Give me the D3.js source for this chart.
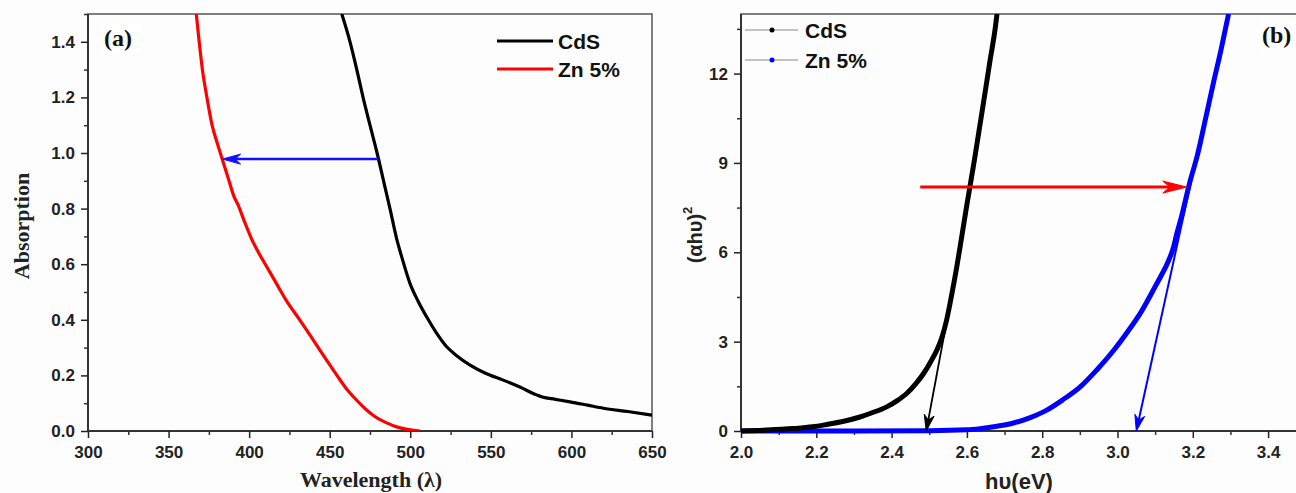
<!DOCTYPE html>
<html>
<head>
<meta charset="utf-8">
<script src="https://cdn.jsdelivr.net/npm/d3@7"></script>
<style>
  html, body { margin: 0; padding: 0; background: #fdfdfd; }
  svg { display: block; }
</style>
</head>
<body>
<div id="chart"></div>
<script>
const w = 1296;
const h = 493;

// panel (a): absorption spectra
const cdsWavelength = [457.5, 462.6, 466.8, 470.7, 475, 479.4, 483.4, 487.4, 491.6, 495, 499.8, 505, 510.2, 516, 522.6, 529, 537.1, 547, 557.7, 568, 578.4, 582, 590, 599.1, 610, 619.8, 635, 650];
const cdsAbs = [1.5, 1.4, 1.3, 1.2, 1.1, 1.0, 0.9, 0.8, 0.69, 0.62, 0.531, 0.465, 0.41, 0.355, 0.303, 0.27, 0.237, 0.207, 0.183, 0.158, 0.13, 0.122, 0.114, 0.105, 0.093, 0.082, 0.07, 0.057];
const znWavelength = [367.2, 369, 371, 373.8, 377, 380.5, 384, 387.5, 390.5, 393, 397, 402, 406, 410, 416, 423, 431.6, 438, 444, 449, 454.5, 460, 466, 472, 478, 485, 492, 499, 506];
const znAbs = [1.5, 1.4, 1.3, 1.2, 1.1, 1.03, 0.965, 0.9, 0.845, 0.815, 0.755, 0.685, 0.64, 0.6, 0.54, 0.47, 0.398, 0.343, 0.29, 0.247, 0.2, 0.155, 0.115, 0.08, 0.052, 0.03, 0.014, 0.005, 0.0];

// panel (b): Tauc plot
const cdsEnergy = [2.0, 2.07, 2.139, 2.19, 2.228, 2.27, 2.316, 2.35, 2.387, 2.415, 2.44, 2.465, 2.485, 2.505, 2.52, 2.535, 2.546, 2.56, 2.573, 2.586, 2.6, 2.62, 2.635, 2.65, 2.661, 2.675, 2.68];
const cdsTauc = [0.0, 0.03, 0.08, 0.14, 0.22, 0.32, 0.47, 0.62, 0.81, 1.02, 1.26, 1.6, 1.93, 2.35, 2.71, 3.2, 3.72, 4.6, 5.5, 6.5, 7.6, 9.1, 10.3, 11.5, 12.4, 13.5, 14.0];
const znEnergy = [2.0, 2.3, 2.5, 2.6, 2.635, 2.68, 2.724, 2.77, 2.812, 2.855, 2.901, 2.945, 2.99, 3.025, 3.06, 3.098, 3.114, 3.135, 3.149, 3.157, 3.17, 3.191, 3.213, 3.235, 3.255, 3.275, 3.295];
const znTauc = [0.0, 0.0, 0.01, 0.04, 0.08, 0.16, 0.27, 0.46, 0.70, 1.05, 1.48, 2.05, 2.71, 3.3, 3.94, 4.8, 5.17, 5.7, 6.18, 6.6, 7.2, 8.3, 9.3, 10.55, 11.7, 12.8, 14.0];

// annotation arrows [x0, y0, x1, y1]
const arrowA = [480.2, 0.978, 383.5, 0.978];
const arrowShift = [2.476, 8.19, 3.184, 8.19];
const tangentCdS = [2.548, 3.8, 2.492, 0];
const tangentZn = [3.201, 8.7, 3.05, 0];

const xTicksA = [300, 350, 400, 450, 500, 550, 600, 650];
const yTicksA = [0.0, 0.2, 0.4, 0.6, 0.8, 1.0, 1.2, 1.4];
const xTicksB = [2.0, 2.2, 2.4, 2.6, 2.8, 3.0, 3.2, 3.4];
const yTicksB = [0, 3, 6, 9, 12];

const legendNames = ["CdS", "Zn 5%"];

const sans = "'Liberation Sans', Arial, sans-serif";
const serif = "'Liberation Serif', 'Times New Roman', serif";

const svg = d3.select("#chart").append("svg")
    .attr("width", w)
    .attr("height", h);

svg.append("rect").attr("width", w).attr("height", h).attr("fill", "#fdfdfd");

const xA = d3.scaleLinear().domain([300, 650]).range([88, 652]);
const yA = d3.scaleLinear().domain([0, 1.5]).range([431, 14]);
const xB = d3.scaleLinear().domain([2.0, 3.5]).range([741, 1305.75]);
const yB = d3.scaleLinear().domain([0, 14]).range([431, 14]);

const defs = svg.append("defs");
defs.append("clipPath").attr("id", "clipA").append("rect")
    .attr("x", xA(300)).attr("y", yA(1.5)).attr("width", xA(650) - xA(300)).attr("height", yA(0) - yA(1.5));
defs.append("clipPath").attr("id", "clipB").append("rect")
    .attr("x", xB(2.0)).attr("y", yB(14)).attr("width", xB(3.5) - xB(2.0)).attr("height", yB(0) - yB(14) + 3);

const mid = (a) => d3.range(a.length - 1).map(i => (a[i] + a[i + 1]) / 2);

const drawAxes = (x, y, xt, yt, yMinorExtra, yFmt, xFmt) => {
    // frame
    svg.append("path")
        .attr("d", `M${x.range()[0]},${y.range()[0]}V${y.range()[1]}H${x.range()[1]}V${y.range()[0]}`)
        .attr("fill", "none").attr("stroke", "#555").attr("stroke-width", 1.5);

    const xMinor = mid(xt).concat([xt[xt.length - 1] + (xt[1] - xt[0]) / 2]).filter(v => v <= x.domain()[1]);
    const yMinor = mid(yt).concat(yMinorExtra);

    svg.append("g")
        .attr("transform", `translate(0,${y.range()[0]})`)
        .call(d3.axisBottom(x).tickValues(xMinor).tickSize(4).tickFormat(""))
        .call(g => g.select(".domain").remove())
        .selectAll("line").attr("stroke", "#333").attr("stroke-width", 1.5);
    svg.append("g")
        .attr("transform", `translate(${x.range()[0]},0)`)
        .call(d3.axisLeft(y).tickValues(yMinor).tickSize(4).tickFormat(""))
        .call(g => g.select(".domain").remove())
        .selectAll("line").attr("stroke", "#333").attr("stroke-width", 1.5);

    const gx = svg.append("g")
        .attr("transform", `translate(0,${y.range()[0]})`)
        .call(d3.axisBottom(x).tickValues(xt).tickSize(7).tickPadding(8).tickFormat(xFmt));
    gx.select(".domain").attr("stroke", "#333").attr("stroke-width", 2).attr("d", `M${x.range()[0]},0H${x.range()[1]}`);
    gx.attr("font-size", 17).attr("font-family", sans).attr("font-weight", "bold").attr("color", "#222");
    gx.selectAll("line").attr("stroke-width", 1.5);

    const gy = svg.append("g")
        .attr("transform", `translate(${x.range()[0]},0)`)
        .call(d3.axisLeft(y).tickValues(yt).tickSize(7).tickPadding(6).tickFormat(yFmt));
    gy.select(".domain").attr("stroke", "#333").attr("stroke-width", 2).attr("d", `M0,${y.range()[0]}V${y.range()[1]}`);
    gy.attr("font-size", 17).attr("font-family", sans).attr("font-weight", "bold").attr("color", "#222");
    gy.selectAll("line").attr("stroke-width", 1.5);
};

drawAxes(xA, yA, xTicksA, yTicksA, [1.5], d3.format(".1f"), d3.format("d"));
drawAxes(xB, yB, xTicksB, yTicksB, [13.5], d3.format("d"), d3.format(".1f"));

// curves
const lineOf = (x, y) => d3.line().x(d => x(d[0])).y(d => y(d[1])).curve(d3.curveMonotoneX);

const plotA = svg.append("g").attr("clip-path", "url(#clipA)");
plotA.append("path")
    .datum(d3.zip(cdsWavelength, cdsAbs))
    .attr("d", lineOf(xA, yA))
    .attr("fill", "none").attr("stroke", "#000").attr("stroke-width", 3.2);
plotA.append("path")
    .datum(d3.zip(znWavelength, znAbs))
    .attr("d", lineOf(xA, yA))
    .attr("fill", "none").attr("stroke", "#ff0000").attr("stroke-width", 3.2);

const plotB = svg.append("g").attr("clip-path", "url(#clipB)");
plotB.append("path")
    .datum(d3.zip(znEnergy, znTauc))
    .attr("d", lineOf(xB, yB))
    .attr("fill", "none").attr("stroke", "#0000ff").attr("stroke-width", 5);
plotB.append("path")
    .datum(d3.zip(cdsEnergy, cdsTauc))
    .attr("d", lineOf(xB, yB))
    .attr("fill", "none").attr("stroke", "#000").attr("stroke-width", 5);

// arrows
const arrow = (x, y, a, color, width, len, half) => {
    const x0 = x(a[0]), y0 = y(a[1]), x1 = x(a[2]), y1 = y(a[3]);
    const ang = Math.atan2(y1 - y0, x1 - x0);
    const ux = Math.cos(ang), uy = Math.sin(ang);
    const px = -uy, py = ux;
    const bx = x1 - ux * len, by = y1 - uy * len;
    const nx = x1 - ux * len * 0.7, ny = y1 - uy * len * 0.7;
    svg.append("line")
        .attr("x1", x0).attr("y1", y0).attr("x2", nx).attr("y2", ny)
        .attr("stroke", color).attr("stroke-width", width);
    svg.append("path")
        .attr("d", `M${x1},${y1}L${bx + px * half},${by + py * half}L${nx},${ny}L${bx - px * half},${by - py * half}Z`)
        .attr("fill", color).attr("stroke", color).attr("stroke-width", 1);
};

arrow(xA, yA, arrowA, "#1010ff", 2.5, 18, 5);
arrow(xB, yB, arrowShift, "#ff0000", 3, 24, 6);
arrow(xB, yB, tangentCdS, "#000", 1.8, 16, 5);
arrow(xB, yB, tangentZn, "#0000ff", 2, 16, 5);

// legend (a)
const legA = svg.append("g");
[["#000", legendNames[0], 41], ["#ff0000", legendNames[1], 69]].forEach(([c, t, yy]) => {
    legA.append("line").attr("x1", 497).attr("x2", 553).attr("y1", yy).attr("y2", yy)
        .attr("stroke", c).attr("stroke-width", 3);
    legA.append("text").attr("x", 558).attr("y", yy + 8).text(t)
        .attr("font-family", sans).attr("font-weight", "bold").attr("font-size", 21).attr("fill", "#111");
});

// legend (b)
const legB = svg.append("g");
[["#000", legendNames[0], 30], ["#0000ff", legendNames[1], 60]].forEach(([c, t, yy]) => {
    legB.append("line").attr("x1", 745).attr("x2", 798).attr("y1", yy).attr("y2", yy)
        .attr("stroke", "#888").attr("stroke-width", 1.2);
    legB.append("circle").attr("cx", 772).attr("cy", yy).attr("r", 2.5).attr("fill", c);
    legB.append("text").attr("x", 805).attr("y", yy + 8).text(t)
        .attr("font-family", sans).attr("font-weight", "bold").attr("font-size", 21).attr("fill", "#111");
});

// panel labels
svg.append("rect").attr("x", 101).attr("y", 24).attr("width", 40).attr("height", 30).attr("fill", "#fff");
svg.append("text").attr("x", 104).attr("y", 46).text("(a)")
    .attr("font-family", serif).attr("font-weight", "bold").attr("font-size", 24).attr("fill", "#111");
svg.append("rect").attr("x", 1259).attr("y", 21).attr("width", 40).attr("height", 30).attr("fill", "#fff");
svg.append("text").attr("x", 1262).attr("y", 43).text("(b)")
    .attr("font-family", serif).attr("font-weight", "bold").attr("font-size", 24).attr("fill", "#111");

// axis titles
svg.append("text")
    .attr("transform", "translate(29,226) rotate(-90)")
    .attr("text-anchor", "middle")
    .attr("font-family", serif).attr("font-weight", "bold").attr("font-size", 22).attr("fill", "#222")
    .text("Absorption");
svg.append("text")
    .attr("x", 371).attr("y", 487)
    .attr("text-anchor", "middle")
    .attr("font-family", serif).attr("font-weight", "bold").attr("font-size", 22).attr("fill", "#222")
    .text("Wavelength (λ)");

const tY = svg.append("text")
    .attr("transform", "translate(702,235) rotate(-90)")
    .attr("text-anchor", "middle")
    .attr("font-family", sans).attr("font-weight", "bold").attr("font-size", 20).attr("fill", "#222");
tY.append("tspan").text("(αhυ)");
tY.append("tspan").attr("font-size", 13).attr("dy", -10).text("2");

svg.append("text")
    .attr("x", 1019).attr("y", 489)
    .attr("text-anchor", "middle")
    .attr("font-family", sans).attr("font-weight", "bold").attr("font-size", 22).attr("fill", "#222")
    .text("hυ(eV)");
</script>
</body>
</html>
